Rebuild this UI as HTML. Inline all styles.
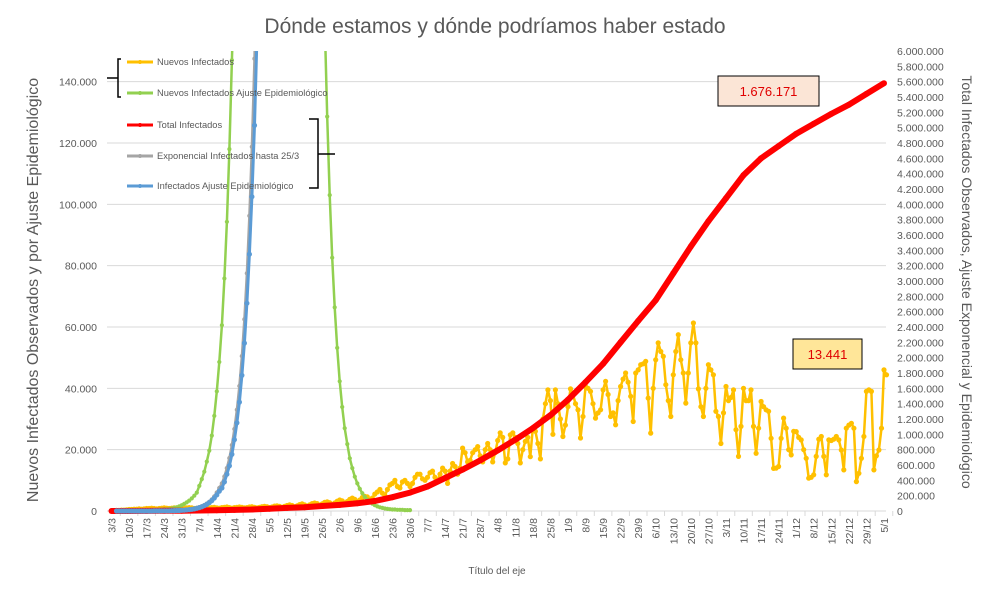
<!DOCTYPE html>
<html><head><meta charset="utf-8"><style>
body{margin:0;background:#fff;}
svg{display:block;font-family:"Liberation Sans",sans-serif;}
</style></head><body>
<svg id="chart" width="990" height="591" viewBox="0 0 990 591" xmlns="http://www.w3.org/2000/svg">
<rect x="0" y="0" width="990" height="591" fill="#fff"/>
<defs><clipPath id="plotclip"><rect x="100" y="51" width="790" height="466"/></clipPath></defs>
<text x="495" y="33" text-anchor="middle" font-size="21" fill="#595959">Dónde estamos y dónde podríamos haber estado</text>
<g id="grid"></g>
<g id="yleft"></g>
<g id="yright"></g>
<g id="xaxis"></g>
<g id="series" clip-path="url(#plotclip)"></g>
<text transform="translate(38,290) rotate(-90)" text-anchor="middle" font-size="16" fill="#595959">Nuevos Infectados Observados y por Ajuste Epidemiológico</text>
<text transform="translate(962,282) rotate(90)" text-anchor="middle" font-size="14" fill="#595959">Total Infectados Observados, Ajuste Exponencial y Epidemiológico</text>
<text x="497" y="574" text-anchor="middle" font-size="10" fill="#595959">Título del eje</text>
<g font-size="9.3" fill="#595959">
 <g><line x1="127" y1="62" x2="153" y2="62" stroke="#ffc000" stroke-width="3"/><circle cx="140" cy="62" r="2" fill="#ffc000"/><text x="157" y="65">Nuevos Infectados</text></g>
 <g><line x1="127" y1="93" x2="153" y2="93" stroke="#92d050" stroke-width="3"/><circle cx="140" cy="93" r="2" fill="#92d050"/><text x="157" y="96">Nuevos Infectados Ajuste Epidemiológico</text></g>
 <g><line x1="127" y1="125" x2="153" y2="125" stroke="#ff0000" stroke-width="3"/><circle cx="140" cy="125" r="2" fill="#ff0000"/><text x="157" y="128">Total Infectados</text></g>
 <g><line x1="127" y1="156" x2="153" y2="156" stroke="#a5a5a5" stroke-width="3"/><circle cx="140" cy="156" r="2" fill="#a5a5a5"/><text x="157" y="159">Exponencial Infectados hasta 25/3</text></g>
 <g><line x1="127" y1="186" x2="153" y2="186" stroke="#5b9bd5" stroke-width="3"/><circle cx="140" cy="186" r="2" fill="#5b9bd5"/><text x="157" y="189">Infectados Ajuste Epidemiológico</text></g>
 <path d="M121,59 L118,59 L118,97 L121,97 M107,78 L118,78" fill="none" stroke="#000" stroke-width="1.5"/>
 <path d="M309,119 L318,119 L318,188 L309,188 M318,154 L335,154" fill="none" stroke="#000" stroke-width="1.5"/>
</g>
<g><rect x="718" y="76" width="101" height="30" fill="#fbe5d6" stroke="#000" stroke-width="1"/><text x="768.5" y="96" text-anchor="middle" font-size="13" fill="#e00000">1.676.171</text></g>
<g><rect x="793" y="339" width="69" height="30" fill="#ffe699" stroke="#000" stroke-width="1"/><text x="827.5" y="359" text-anchor="middle" font-size="13" fill="#e00000">13.441</text></g>
</svg>
<script>
// Daily new infected (thousands), day 0 = 3/3
const nuevos = [0.1,0.1,0.2,0.2,0.3,0.3,0.4,0.5,0.5,0.6,
0.6,0.7,0.6,0.7,0.8,0.8,0.9,0.8,0.7,0.8,
0.9,1,0.9,0.8,0.9,1,1,0.9,0.8,0.9,
1,1.1,1,0.8,0.9,1,1.1,1,0.9,1,
1.1,1.2,1,0.9,1.1,1.2,1.3,1.1,0.9,1.1,
1.2,1.3,1.2,1,1.1,1.3,1.4,1.2,1,1.2,
1.4,1.5,1.4,1.1,1.3,1.6,1.7,1.5,1.2,1.5,
1.8,2,1.8,1.4,1.7,2.1,2.3,2,1.6,2,
2.4,2.6,2.4,1.9,2.3,2.8,3,2.7,2.1,2.6,
3.2,3.6,3.3,2.6,3.1,3.8,4.2,3.8,3,3.6,
4.4,4.8,4.6,3.6,4.2,5.5,6.2,7,5.8,5,
7,8.5,9,10,8,7.5,9.5,10,9,8,
9,11,12,12,10.5,10,11,12.5,13,11,
9.5,12,14,13,9,13,15.5,14.5,12,14,
20.5,19,16,16.5,19,20,21,18,16,20,
22,20,16,19,23,25.5,24,15.7,17,24.8,
25.5,24,22,15.7,20,22.7,24,17.7,27,26,
22,17,30,35,39.5,36,25,39.5,35,30,
24.3,28,34,39.8,38,35,33,23.8,30.8,40.6,
40,39,35,30.3,32,33,39.5,42.3,38,30.8,
32,28.1,36,40.6,43,45,42,37.4,29.2,45,
46,47.7,48,48.8,36.8,25.4,40,49.3,54.8,52,
50.4,41.2,36,30.8,44.4,52,57.5,49.3,45,35.2,
45,54.8,61.3,54.8,39.8,34,30.8,40,47.7,46,
44.4,32.5,30.8,22,32,40.6,36,37,39.5,26.5,
17.8,27.6,40,36,36,39.5,27.6,18.8,27,35.7,
34,33,32.5,23.7,13.9,14,14.5,23.7,30.3,27,
20,18.3,26,25.9,24,23.2,20,17.2,10.7,11,
11.8,17.8,23.4,24.3,17.8,11.8,23.2,23,23.4,24.3,
23.2,19.9,13.4,27,28,28.6,27,9.6,12.3,17.2,
24.3,39,39.5,39,13.4,18,19.9,27,46,44.4];
// Epidemiological fit of new infected (thousands), daily from day 0
const nuevosAjuste = [0.1,0.1,0.1,0.1,0.1,0.1,0.1,0.2,0.2,0.2,
0.2,0.2,0.3,0.3,0.3,0.3,0.4,0.4,0.4,0.5,
0.5,0.6,0.6,0.7,0.8,1.0,1.2,1.5,1.9,2.3,
2.8,3.4,4.1,5,6,8.2,10.4,12.8,16.1,19.7,
24.6,31,39,48.6,60.6,75.8,94.3,118,147,175,
205,240,283,350,430,520,620,720,820,900,
960,990,1000,990,960,910,840,760,680,600,
530,470,420,400,380,360,340,320,300,280,
260,245,230,215,200,160,128.6,103,82.6,66.4,
53.2,42.3,33.9,27,21.8,17.2,14,11.2,9,7.2,
5.8,4.6,3.7,3,2.4,1.9,1.5,1.2,1,0.8,
0.7,0.6,0.5,0.5,0.4,0.4,0.4,0.3,0.3,0.3];
// Total infected (millions), every 7 days
const totalDays = [0,7,14,21,28,35,42,49,56,63,70,77,84,91,98,105,112,119,126,133,140,147,154,161,168,175,182,189,196,203,210,217,224,231,238,245,252,259,266,273,280,287,294,301,308];
const total = [0,0,0.001,0.002,0.004,0.006,0.01,0.015,0.02,0.03,0.04,0.05,0.065,0.08,0.1,0.13,0.18,0.24,0.32,0.43,0.54,0.66,0.79,0.93,1.08,1.25,1.45,1.68,1.92,2.2,2.48,2.75,3.1,3.45,3.78,4.08,4.38,4.6,4.76,4.92,5.05,5.18,5.3,5.44,5.58];
// Exponential up to 25/3 (millions), daily from day 2
const exponencial = [0,0,0,0,0,0,0,0,0,0,
0,0,0,0,0,0.001,0.001,0.001,0.002,0.002,
0.003,0.004,0.005,0.006,0.007,0.008,0.01,0.013,0.016,0.02,
0.025,0.031,0.039,0.049,0.062,0.077,0.096,0.12,0.15,0.19,
0.24,0.3,0.36,0.45,0.56,0.69,0.86,1.07,1.32,1.63,
2.02,2.5,3.1,3.85,4.75,5.9,7.3];
const expStart = 2;
// Infected epidemiological fit (millions), daily from day 2
const infAjuste = [0,0,0,0,0,0,0,0,0,0,
0,0,0,0,0,0.001,0.001,0.001,0.002,0.002,
0.003,0.003,0.004,0.005,0.006,0.007,0.009,0.011,0.014,0.018,
0.022,0.028,0.035,0.044,0.055,0.069,0.086,0.11,0.135,0.17,
0.21,0.26,0.3,0.38,0.48,0.59,0.74,0.93,1.15,1.42,
1.77,2.19,2.71,3.35,4.1,5.03,6.2];
const infStart = 2;
const leftTicks = ["0","20.000","40.000","60.000","80.000","100.000","120.000","140.000"];
const leftTickValues = [0,20,40,60,80,100,120,140];
const rightTickValues = [0,0.2,0.4,0.6,0.8,1,1.2,1.4,1.6,1.8,2,2.2,2.4,2.6,2.8,3,3.2,3.4,3.6,3.8,4,4.2,4.4,4.6,4.8,5,5.2,5.4,5.6,5.8,6];
const xLabels = ["3/3","10/3","17/3","24/3","31/3","7/4","14/4","21/4","28/4","5/5","12/5","19/5","26/5","2/6","9/6","16/6","23/6","30/6","7/7","14/7","21/7","28/7","4/8","11/8","18/8","25/8","1/9","8/9","15/9","22/9","29/9","6/10","13/10","20/10","27/10","3/11","10/11","17/11","24/11","1/12","8/12","15/12","22/12","29/12","5/1"];

const NS="http://www.w3.org/2000/svg";
const X0=111.5, PXD=2.508, Y0=511, LTOP=150, RTOP=6, YT=51;
function xs(d){return X0+d*PXD;}
function yl(v){return Y0-(v/LTOP)*(Y0-YT);}
function yr(v){return Y0-(v/RTOP)*(Y0-YT);}
function mk(tag,attrs,parent){const e=document.createElementNS(NS,tag);for(const k in attrs)e.setAttribute(k,attrs[k]);parent.appendChild(e);return e;}
function fmt(v){const n=Math.round(v*1000000);return n.toString().replace(/\B(?=(\d{3})+(?!\d))/g,".");}

const grid=document.getElementById('grid');
leftTickValues.forEach(v=>{ if(v===0)return;
 const l=mk('line',{x1:107,x2:886,y1:yl(v),y2:yl(v),stroke:'#d9d9d9','stroke-width':1},grid);
 
 
});
const base=mk('line',{x1:107,x2:886,y1:Y0,y2:Y0,stroke:'#d9d9d9','stroke-width':1},grid);



const yleft=document.getElementById('yleft');
leftTickValues.forEach((v,i)=>{
 const t=mk('text',{x:97,y:yl(v)+4,'text-anchor':'end','font-size':10.5,fill:'#595959'},yleft);
 t.textContent=leftTicks[i];
 
 
});
const yright=document.getElementById('yright');
rightTickValues.forEach(v=>{
 const t=mk('text',{x:897,y:yr(v)+4,'font-size':10.5,fill:'#595959'},yright);
 t.textContent=fmt(v);
 
 
});
const xaxis=document.getElementById('xaxis');
xLabels.forEach((s,i)=>{
 const x=xs(i*7);
 const tk=mk('line',{x1:x+8.8,x2:x+8.8,y1:Y0,y2:Y0+5,stroke:'#d9d9d9'},xaxis);
 
 
 const t=mk('text',{transform:`translate(${x+4},518) rotate(-90)`,'text-anchor':'end','font-size':10.5,fill:'#595959'},xaxis);
 t.textContent=s;
 
 
});

const series=document.getElementById('series');
function drawSeries(name,days,vals,yf,color,lw,r){
 const g=mk('g',{},series);
 
 
 const pts=vals.map((v,i)=>[xs(days(i)),yf(v)]);
 const p=mk('polyline',{points:pts.map(p=>p[0].toFixed(1)+','+p[1].toFixed(1)).join(' '),fill:'none',stroke:color,'stroke-width':lw,'stroke-linejoin':'round'},g);
 
 
 pts.forEach(pt=>{
  const c=mk('circle',{cx:pt[0].toFixed(1),cy:pt[1].toFixed(1),r:r,fill:color},g);
  
  
 });
}
drawSeries('nuevos-infectados',i=>i,nuevos,yl,'#ffc000',2.5,2.6);
drawSeries('nuevos-ajuste',i=>i,nuevosAjuste,yl,'#92d050',2.5,2.1);
drawSeries('total-infectados',i=>totalDays[i],total,yr,'#ff0000',6,3);
drawSeries('exponencial',i=>i+expStart,exponencial,yr,'#a5a5a5',2.5,2.2);
drawSeries('infectados-ajuste',i=>i+infStart,infAjuste,yr,'#5b9bd5',3,2.6);
</script>
</body></html>
